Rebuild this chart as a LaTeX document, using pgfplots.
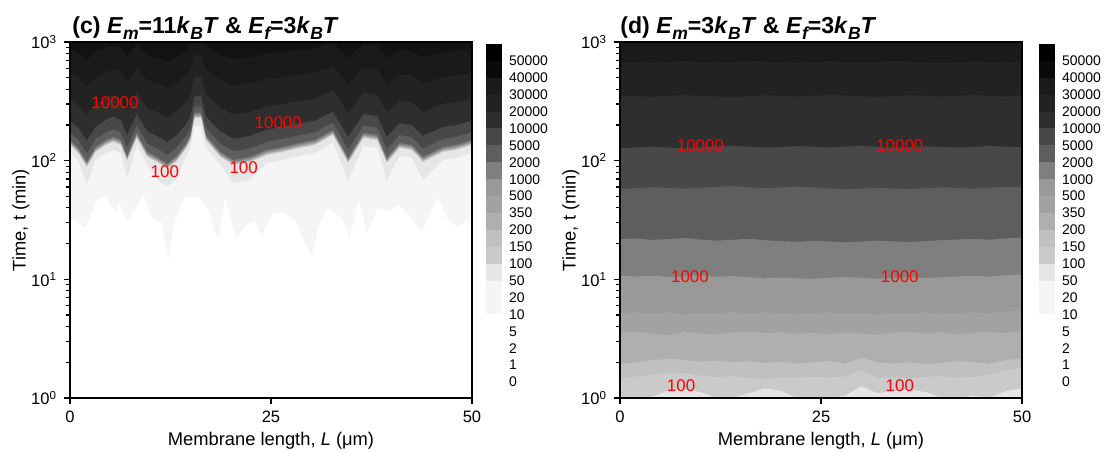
\documentclass[border=0pt]{standalone}
\usepackage{fontspec}
\setmainfont{Liberation Sans}
\usepackage{pgfplots}
\usepackage{pgfplotstable}
\pgfplotsset{compat=1.18}

\definecolor{g00}{HTML}{000000}
\definecolor{g0a}{HTML}{0A0A0A}
\definecolor{g12}{HTML}{121212}
\definecolor{g1a}{HTML}{1A1A1A}
\definecolor{g22}{HTML}{222222}
\definecolor{g2e}{HTML}{2E2E2E}
\definecolor{g48}{HTML}{484848}
\definecolor{g5e}{HTML}{5E5E5E}
\definecolor{g7f}{HTML}{7F7F7F}
\definecolor{g99}{HTML}{999999}
\definecolor{ga2}{HTML}{A2A2A2}
\definecolor{gaf}{HTML}{AFAFAF}
\definecolor{gc0}{HTML}{C0C0C0}
\definecolor{gca}{HTML}{CACACA}
\definecolor{ge6}{HTML}{E6E6E6}
\definecolor{gf5}{HTML}{F5F5F5}

% contour boundaries, y = log10(t / min)
\pgfplotstableread{
L    b50   b100  b150  b200  b350  b500  b1000 b2000 b5000 b10000 b20000 b30000 b40000
0    2.065 2.132 2.137 2.142 2.147 2.152 2.159 2.174 2.239 2.337 2.525 2.743 2.948
1    1.998 2.065 2.070 2.075 2.080 2.085 2.092 2.107 2.175 2.276 2.471 2.700 2.911
2.1  1.796 1.947 1.952 1.957 1.962 1.967 1.974 1.989 2.063 2.170 2.376 2.623 2.846
3.2  2.006 2.073 2.078 2.083 2.088 2.093 2.100 2.115 2.183 2.284 2.478 2.705 2.916
4.5  2.065 2.132 2.137 2.142 2.147 2.152 2.159 2.174 2.239 2.347 2.535 2.750 2.952
5.4  2.090 2.157 2.162 2.167 2.172 2.177 2.184 2.199 2.263 2.370 2.555 2.765 2.962
6.3  2.065 2.132 2.137 2.142 2.147 2.152 2.159 2.174 2.239 2.340 2.528 2.743 2.948
7.1  1.846 1.997 2.002 2.007 2.012 2.017 2.024 2.039 2.111 2.215 2.417 2.656 2.874
8.3  2.124 2.191 2.196 2.201 2.206 2.211 2.218 2.233 2.295 2.390 2.572 2.782 2.981
9.6  1.964 2.031 2.036 2.041 2.046 2.051 2.058 2.073 2.143 2.246 2.444 2.678 2.893
11   1.829 1.980 1.985 1.990 1.995 2.000 2.007 2.022 2.095 2.200 2.403 2.645 2.865
12.1 1.779 1.930 1.935 1.940 1.945 1.950 1.957 1.972 2.047 2.155 2.363 2.612 2.837
13.3 1.846 1.997 2.002 2.007 2.012 2.017 2.024 2.039 2.111 2.215 2.417 2.656 2.874
14.5 2.040 2.107 2.112 2.117 2.122 2.127 2.134 2.149 2.215 2.314 2.505 2.727 2.934
15.0 2.107 2.174 2.179 2.184 2.189 2.194 2.201 2.216 2.279 2.375 2.558 2.771 2.971
15.5 2.293 2.360 2.365 2.370 2.375 2.380 2.387 2.402 2.455 2.542 2.707 2.891 3.000
16.3 2.293 2.360 2.365 2.370 2.375 2.380 2.387 2.402 2.455 2.542 2.707 2.891 3.000
16.9 2.107 2.174 2.179 2.184 2.189 2.194 2.201 2.216 2.279 2.375 2.558 2.771 2.971
17.5 2.057 2.124 2.129 2.134 2.139 2.144 2.151 2.166 2.231 2.329 2.518 2.738 2.944
18.7 1.964 2.031 2.036 2.041 2.046 2.051 2.058 2.073 2.143 2.246 2.444 2.678 2.893
20.3 1.812 1.963 1.968 1.973 1.978 1.983 1.990 2.005 2.079 2.185 2.390 2.634 2.855
22.4 1.838 1.989 1.994 1.999 2.004 2.009 2.016 2.031 2.103 2.208 2.410 2.650 2.869
24.5 1.981 2.048 2.053 2.058 2.063 2.068 2.075 2.090 2.159 2.261 2.457 2.689 2.902
26.5 2.006 2.073 2.078 2.083 2.088 2.093 2.100 2.115 2.183 2.284 2.478 2.705 2.916
28.6 2.040 2.107 2.112 2.117 2.122 2.127 2.134 2.149 2.215 2.314 2.505 2.727 2.934
30.5 2.065 2.132 2.137 2.142 2.147 2.152 2.159 2.174 2.239 2.337 2.525 2.743 2.948
32.7 2.149 2.216 2.221 2.226 2.231 2.236 2.243 2.258 2.319 2.413 2.592 2.798 2.995
34.6 1.829 1.980 1.985 1.990 1.995 2.000 2.007 2.022 2.095 2.200 2.403 2.645 2.865
36.5 2.124 2.191 2.196 2.201 2.206 2.211 2.218 2.233 2.295 2.390 2.572 2.782 2.981
38.2 2.107 2.174 2.179 2.184 2.189 2.194 2.201 2.216 2.279 2.375 2.558 2.771 2.971
39.4 1.829 1.980 1.985 1.990 1.995 2.000 2.007 2.022 2.095 2.200 2.403 2.645 2.865
41   2.040 2.107 2.112 2.117 2.122 2.127 2.134 2.149 2.215 2.314 2.505 2.727 2.934
42.5 2.023 2.090 2.095 2.100 2.105 2.110 2.117 2.132 2.199 2.299 2.491 2.716 2.925
43.9 1.838 1.989 1.994 1.999 2.004 2.009 2.016 2.031 2.103 2.208 2.410 2.650 2.869
46.4 2.006 2.073 2.078 2.083 2.088 2.093 2.100 2.115 2.183 2.284 2.478 2.705 2.916
48   2.023 2.090 2.095 2.100 2.105 2.110 2.117 2.132 2.199 2.299 2.491 2.716 2.925
50   2.065 2.132 2.137 2.142 2.147 2.152 2.159 2.174 2.239 2.337 2.525 2.743 2.948
}\datc

\pgfplotstableread{
L    b10
0    1.525
1.9  1.433
2.7  1.559
3.5  1.685
4.4  1.694
5.6  1.567
6.2  1.643
7.0  1.483
8.3  1.601
9.1  1.711
10.2 1.517
11.4 1.483
12.2 1.163
13.1 1.500
14.3 1.694
16.0 1.694
17.2 1.584
18.4 1.331
19.3 1.685
20.1 1.475
20.7 1.348
21.8 1.441
23.0 1.500
23.8 1.357
25.1 1.542
26.3 1.567
28.0 1.500
29.2 1.306
30.1 1.188
30.9 1.441
32.1 1.601
33.8 1.517
34.8 1.348
35.9 1.669
36.9 1.390
38.3 1.601
39.6 1.567
40.8 1.626
42.5 1.517
43.7 1.399
45.8 1.694
47.0 1.500
48.3 1.441
49.8 1.517
50   1.534
}\datclow

\pgfplotstableread{
L  b100  b150  b200  b350  b500  b1000 b2000 b5000 b10000 b20000 b30000
0  0.000 0.165 0.285 0.545 0.715 1.030 1.338 1.762 2.105 2.550 2.835
2  0.000 0.180 0.300 0.560 0.722 1.024 1.345 1.768 2.112 2.544 2.830
4  0.010 0.195 0.318 0.540 0.712 1.031 1.332 1.776 2.118 2.538 2.826
6  0.060 0.215 0.330 0.528 0.720 1.020 1.340 1.770 2.110 2.546 2.832
8  0.075 0.210 0.322 0.556 0.706 1.026 1.348 1.764 2.104 2.552 2.838
10 0.050 0.190 0.305 0.545 0.718 1.034 1.335 1.772 2.113 2.547 2.833
12 0.000 0.175 0.315 0.535 0.712 1.022 1.326 1.780 2.120 2.541 2.828
14 0.000 0.185 0.300 0.552 0.724 1.028 1.333 1.786 2.126 2.536 2.834
16 0.040 0.170 0.310 0.560 0.710 1.018 1.342 1.776 2.117 2.544 2.840
18 0.080 0.160 0.295 0.545 0.720 1.008 1.330 1.768 2.110 2.551 2.836
20 0.060 0.175 0.305 0.552 0.715 1.015 1.322 1.774 2.116 2.546 2.830
22 0.000 0.168 0.290 0.540 0.708 1.010 1.316 1.782 2.123 2.540 2.826
24 0.000 0.180 0.300 0.548 0.716 1.004 1.325 1.776 2.118 2.547 2.832
26 0.000 0.172 0.312 0.536 0.722 1.012 1.320 1.766 2.111 2.553 2.838
28 0.020 0.180 0.290 0.552 0.710 1.020 1.312 1.758 2.118 2.548 2.834
30 0.100 0.235 0.340 0.545 0.716 1.013 1.318 1.764 2.124 2.542 2.829
32 0.040 0.170 0.298 0.534 0.705 1.005 1.326 1.772 2.117 2.537 2.833
34 0.060 0.175 0.290 0.550 0.718 1.012 1.320 1.766 2.109 2.545 2.839
36 0.070 0.165 0.300 0.556 0.712 1.018 1.314 1.760 2.114 2.551 2.835
38 0.050 0.178 0.285 0.542 0.722 1.010 1.322 1.768 2.121 2.546 2.829
40 0.000 0.185 0.295 0.552 0.708 1.016 1.330 1.775 2.116 2.540 2.825
42 0.000 0.170 0.310 0.536 0.716 1.024 1.336 1.770 2.110 2.546 2.831
44 0.020 0.180 0.300 0.548 0.722 1.030 1.341 1.764 2.117 2.552 2.837
46 0.000 0.200 0.290 0.555 0.715 1.022 1.334 1.772 2.124 2.547 2.833
48 0.060 0.230 0.320 0.545 0.728 1.034 1.345 1.779 2.119 2.541 2.828
50 0.080 0.255 0.335 0.565 0.735 1.040 1.352 1.774 2.112 2.548 2.834
}\datd

\tikzset{red lab/.style={text=red, font=\fontsize{8.5}{9}\selectfont, inner sep=0pt}}
\newcommand{\sub}[1]{\raisebox{-0.3em}{\fontsize{8.8}{9}\selectfont\itshape #1}}

\pgfplotsset{
  heat/.style={
    scale only axis, width=201bp, height=178bp,
    xmin=0, xmax=50, ymin=0, ymax=3,
    axis on top,
    tick pos=left, tick align=outside,
    xtick={0,25,50}, xticklabels={0,25,50},
    ytick={0,1,2,3},
    yticklabels={10\textsuperscript{0},10\textsuperscript{1},10\textsuperscript{2},10\textsuperscript{3}},
    minor ytick={0.301,0.477,0.602,0.699,0.778,0.845,0.903,0.954,
                 1.301,1.477,1.602,1.699,1.778,1.845,1.903,1.954,
                 2.301,2.477,2.602,2.699,2.778,2.845,2.903,2.954},
    major tick length=3bp, minor tick length=1.8bp,
    axis line style={line width=0.7bp},
    every tick/.append style={line width=0.6bp, black},
    tick label style={font=\fontsize{8.3}{9}\selectfont},
    label style={font=\fontsize{9.2}{10}\selectfont},
    xlabel={Membrane length, \textit{L} (μm)},
    ylabel={Time, t (min)},
    xlabel shift=-2bp, ylabel shift=-6bp,
    title style={at={(0,1)}, anchor=base west, yshift=-1.5bp, inner sep=0pt,
      font=\bfseries\fontsize{11.6}{13}\selectfont},
  },
  cbar/.style={
    scale only axis, width=8bp, height=169bp,
    xmin=0, xmax=1, ymin=0, ymax=20,
    axis line style={draw=none}, xtick=\empty,
    ytick={0,...,19},
    yticklabels={0,1,2,5,10,20,50,100,150,200,350,500,1000,2000,5000,10000,20000,30000,40000,50000},
    yticklabel pos=right, major tick length=0pt,
    yticklabel style={font=\fontsize{7}{8}\selectfont, anchor=west},
  },
}

\newcommand{\colorbarfills}{%
  \addplot[draw=none, fill=g00] coordinates {(0,20) (1,20)} \closedcycle;
  \addplot[draw=none, fill=g0a] coordinates {(0,19) (1,19)} \closedcycle;
  \addplot[draw=none, fill=g1a] coordinates {(0,18) (1,18)} \closedcycle;
  \addplot[draw=none, fill=g22] coordinates {(0,17) (1,17)} \closedcycle;
  \addplot[draw=none, fill=g2e] coordinates {(0,16) (1,16)} \closedcycle;
  \addplot[draw=none, fill=g48] coordinates {(0,15) (1,15)} \closedcycle;
  \addplot[draw=none, fill=g5e] coordinates {(0,14) (1,14)} \closedcycle;
  \addplot[draw=none, fill=g7f] coordinates {(0,13) (1,13)} \closedcycle;
  \addplot[draw=none, fill=g99] coordinates {(0,12) (1,12)} \closedcycle;
  \addplot[draw=none, fill=ga2] coordinates {(0,11) (1,11)} \closedcycle;
  \addplot[draw=none, fill=gaf] coordinates {(0,10) (1,10)} \closedcycle;
  \addplot[draw=none, fill=gc0] coordinates {(0,9) (1,9)} \closedcycle;
  \addplot[draw=none, fill=gca] coordinates {(0,8) (1,8)} \closedcycle;
  \addplot[draw=none, fill=ge6] coordinates {(0,7) (1,7)} \closedcycle;
  \addplot[draw=none, fill=gf5] coordinates {(0,6) (1,6)} \closedcycle;
  \addplot[draw=none, fill=white] coordinates {(0,4) (1,4)} \closedcycle;
}

\begin{document}
\begin{tikzpicture}
\path[use as bounding box] (-35bp,-27bp) rectangle (517.5bp,199bp);

% (c)
\begin{axis}[heat, at={(0bp,0bp)}, anchor=south west, axis background/.style={fill=g12},
  title={\hspace{1bp}(c) \textit{E}\sub{m}=11\textit{k}\sub{B}\textit{T} \& \textit{E}\sub{f}=3\textit{k}\sub{B}\textit{T}}]
  \addplot[draw=none, fill=g1a] table[x=L, y=b40000] {\datc} \closedcycle;
  \addplot[draw=none, fill=g22] table[x=L, y=b30000] {\datc} \closedcycle;
  \addplot[draw=none, fill=g2e] table[x=L, y=b20000] {\datc} \closedcycle;
  \addplot[draw=none, fill=g48] table[x=L, y=b10000] {\datc} \closedcycle;
  \addplot[draw=none, fill=g5e] table[x=L, y=b5000] {\datc} \closedcycle;
  \addplot[draw=none, fill=g7f] table[x=L, y=b2000] {\datc} \closedcycle;
  \addplot[draw=none, fill=g99] table[x=L, y=b1000] {\datc} \closedcycle;
  \addplot[draw=none, fill=ga2] table[x=L, y=b500] {\datc} \closedcycle;
  \addplot[draw=none, fill=gaf] table[x=L, y=b350] {\datc} \closedcycle;
  \addplot[draw=none, fill=gc0] table[x=L, y=b200] {\datc} \closedcycle;
  \addplot[draw=none, fill=gca] table[x=L, y=b150] {\datc} \closedcycle;
  \addplot[draw=none, fill=ge6] table[x=L, y=b100] {\datc} \closedcycle;
  \addplot[draw=none, fill=gf5] table[x=L, y=b50] {\datc} \closedcycle;
  \addplot[draw=none, fill=white] table[x=L, y=b10] {\datclow} \closedcycle;
  \node[red lab] at (axis cs:5.6,2.486) {10000};
  \node[red lab] at (axis cs:25.9,2.317) {10000};
  \node[red lab] at (axis cs:11.8,1.905) {100};
  \node[red lab] at (axis cs:21.6,1.938) {100};
\end{axis}

\begin{axis}[cbar, at={(208bp,8bp)}, anchor=south west]
  \colorbarfills
\end{axis}

% (d)
\begin{axis}[heat, at={(275bp,0bp)}, anchor=south west, axis background/.style={fill=g1a},
  title={(d) \textit{E}\sub{m}=3\textit{k}\sub{B}\textit{T} \& \textit{E}\sub{f}=3\textit{k}\sub{B}\textit{T}}]
  \addplot[draw=none, fill=g22] table[x=L, y=b30000] {\datd} \closedcycle;
  \addplot[draw=none, fill=g2e] table[x=L, y=b20000] {\datd} \closedcycle;
  \addplot[draw=none, fill=g48] table[x=L, y=b10000] {\datd} \closedcycle;
  \addplot[draw=none, fill=g5e] table[x=L, y=b5000] {\datd} \closedcycle;
  \addplot[draw=none, fill=g7f] table[x=L, y=b2000] {\datd} \closedcycle;
  \addplot[draw=none, fill=g99] table[x=L, y=b1000] {\datd} \closedcycle;
  \addplot[draw=none, fill=ga2] table[x=L, y=b500] {\datd} \closedcycle;
  \addplot[draw=none, fill=gaf] table[x=L, y=b350] {\datd} \closedcycle;
  \addplot[draw=none, fill=gc0] table[x=L, y=b200] {\datd} \closedcycle;
  \addplot[draw=none, fill=gca] table[x=L, y=b150] {\datd} \closedcycle;
  \addplot[draw=none, fill=ge6] table[x=L, y=b100] {\datd} \closedcycle;
  \node[red lab] at (axis cs:10,2.13) {10000};
  \node[red lab] at (axis cs:34.8,2.13) {10000};
  \node[red lab] at (axis cs:8.7,1.02) {1000};
  \node[red lab] at (axis cs:34.8,1.02) {1000};
  \node[red lab] at (axis cs:7.6,0.10) {100};
  \node[red lab] at (axis cs:34.8,0.10) {100};
\end{axis}

\begin{axis}[cbar, at={(484.5bp,8bp)}, anchor=south west]
  \colorbarfills
\end{axis}
\end{tikzpicture}
\end{document}
